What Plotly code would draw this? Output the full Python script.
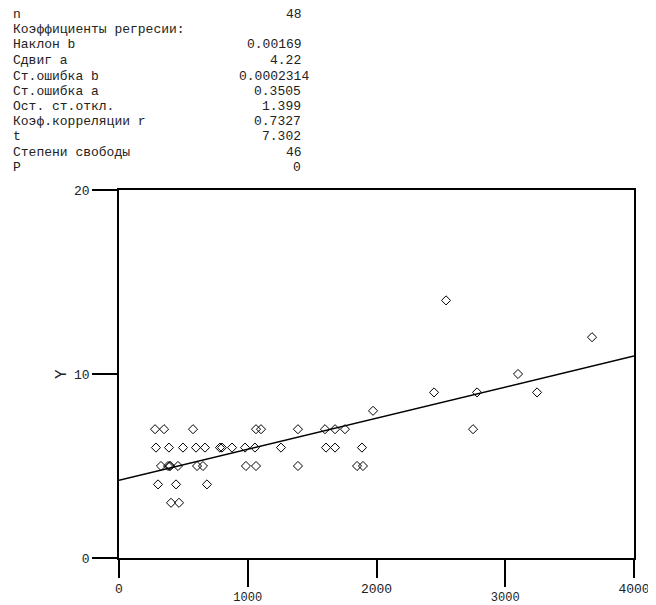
import plotly.graph_objects as go

# ---- data ----
x_vals = [280, 350, 575, 1064, 1103, 1390, 1600, 1678, 1755, 2750,
          287, 388, 497, 598, 668, 784, 800, 878, 979, 1056, 1258, 1608, 1678, 1887,
          326, 381, 396, 396, 458, 606, 652, 986, 1064, 1390, 1849, 1895,
          303, 443, 683,
          404, 466,
          1973,
          2447, 2781, 3247,
          3099,
          3674,
          2540]
y_vals = [7] * 10 + [6] * 14 + [5] * 12 + [4] * 3 + [3] * 2 + [8] + [9] * 3 + [10] + [12] + [14]

slope_b = 0.00169
intercept_a = 4.22
line_x = [0, 4000]

stat_labels = ["n", "Коэффициенты регресии:", "Наклон b", "Сдвиг a", "Ст.ошибка b",
               "Ст.ошибка a", "Ост. ст.откл.", "Коэф.корреляции r", "t",
               "Степени свободы", "P"]
stat_values = ["48", "", "0.00169", "4.22", "0.0002314", "0.3505", "1.399",
               "0.7327", "7.302", "46", "0"]

x_ticks_short = [0, 2000, 4000]
x_ticks_long = [1000, 3000]
y_ticks = [0, 10, 20]

# ---- geometry (pixels, in window coordinates; page body adds an 8px offset) ----
OFF = 8
W, H = 656 - OFF, 605 - OFF
L, R, T, B = 119 - OFF, 634 - OFF, 190 - OFF, 558 - OFF
pw, ph = R - L, B - T

def px_x(p):
    return (p - OFF - L) / pw

def px_y(p):
    return (B - (p - OFF)) / ph

FONT = "Liberation Mono, DejaVu Sans Mono, monospace"
TXT = "#222"

fig = go.Figure()
fig.add_trace(go.Scatter(
    x=line_x, y=[intercept_a + slope_b * v for v in line_x],
    mode="lines", line=dict(color="black", width=1.5),
    hoverinfo="skip", showlegend=False))
fig.add_trace(go.Scatter(
    x=x_vals, y=y_vals, mode="markers",
    marker=dict(symbol="diamond-open", size=7, color="black", line=dict(width=1)),
    showlegend=False))
# invisible trace so xaxis2 is rendered
fig.add_trace(go.Scatter(x=[0], y=[0], xaxis="x2", mode="markers",
                         marker=dict(opacity=0), hoverinfo="skip", showlegend=False))

tick_common = dict(showgrid=False, zeroline=False, automargin=False,
                   ticks="outside", tickcolor="black", tickwidth=1.5)

fig.update_layout(
    template="none",
    width=W, height=H,
    margin=dict(l=L, r=W - R, t=T, b=H - B, pad=0, autoexpand=False),
    paper_bgcolor="white", plot_bgcolor="white",
    xaxis=dict(range=[0, 4000], tickvals=x_ticks_short, ticktext=[str(v) for v in x_ticks_short],
               ticklen=18, showline=True, mirror=True, linecolor="black", linewidth=1.5,
               tickfont=dict(family=FONT, size=13, color=TXT), **tick_common),
    xaxis2=dict(range=[0, 4000], overlaying="x", side="bottom", tickvals=x_ticks_long,
                ticktext=[str(v) for v in x_ticks_long], ticklen=28, showline=False,
                tickfont=dict(family=FONT, size=12, color=TXT), **tick_common),
    yaxis=dict(range=[0, 20], tickvals=y_ticks, ticktext=[str(v) for v in y_ticks],
               ticklen=25, showline=True, mirror=True, linecolor="black", linewidth=1.5,
               tickfont=dict(family=FONT, size=13, color=TXT), **tick_common),
    font=dict(family=FONT, color=TXT),
    showlegend=False,
)

ann = []
ann.append(dict(x=px_x(62), y=px_y(374), xref="paper", yref="paper", text="Y",
                textangle=-90, showarrow=False, font=dict(family=FONT, size=16, color=TXT),
                xanchor="center", yanchor="middle"))

line_y = [14, 29, 44, 60, 76, 91, 106, 121, 136, 152, 167]
for lab, val, yy in zip(stat_labels, stat_values, line_y):
    ann.append(dict(x=px_x(12), y=px_y(yy), xref="paper", yref="paper", text=lab,
                    showarrow=False, xanchor="left", yanchor="middle", height=14,
                    borderpad=0, font=dict(family=FONT, size=13, color=TXT)))
    if val:
        txt = val if len(val) >= 9 else val + "&nbsp;"
        ann.append(dict(x=px_x(310), y=px_y(yy), xref="paper", yref="paper", text=txt,
                        showarrow=False, xanchor="right", yanchor="middle", height=14,
                        borderpad=0, font=dict(family=FONT, size=13, color=TXT)))
fig.update_layout(annotations=ann)

fig.write_html("out.html")
